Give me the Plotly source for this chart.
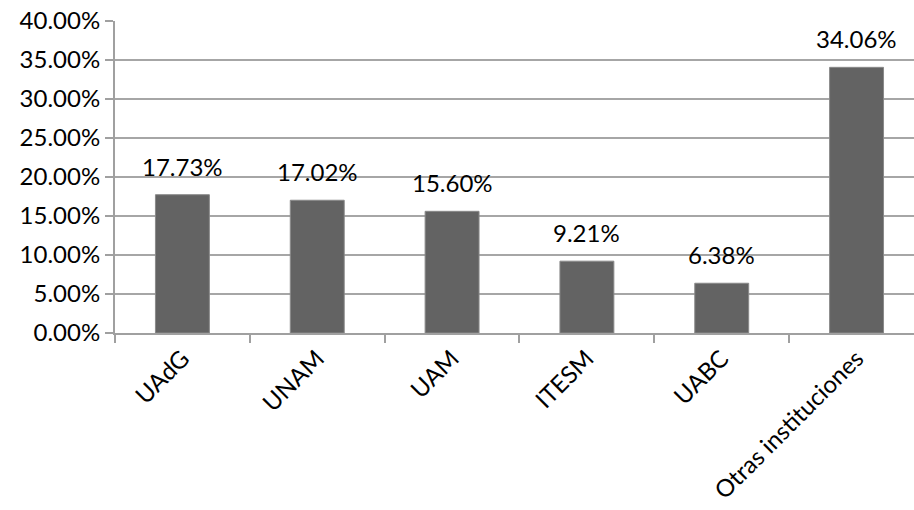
import plotly.graph_objects as go

categories = ["UAdG", "UNAM", "UAM", "ITESM", "UABC", "Otras instituciones"]
values = [0.1773, 0.1702, 0.1560, 0.0921, 0.0638, 0.3406]
labels = ["17.73%", "17.02%", "15.60%", "9.21%", "6.38%", "34.06%"]
y_ticks = [0, 0.05, 0.10, 0.15, 0.20, 0.25, 0.30, 0.35, 0.40]
y_ticklabels = ["0.00%", "5.00%", "10.00%", "15.00%", "20.00%", "25.00%", "30.00%", "35.00%", "40.00%"]

FONT = "Lato"
FS = 24
fig = go.Figure()
fig.add_trace(go.Bar(
    x=list(range(len(categories))), y=values, width=0.4,
    marker=dict(color="#636363", line=dict(color="#8a8a8a", width=1)),
    hoverinfo="skip",
))
for i, (v, t) in enumerate(zip(values, labels)):
    fig.add_annotation(x=i, y=v, text=t, showarrow=False, xref="x", yref="y",
                       yanchor="bottom", yshift=12,
                       font=dict(family=FONT, size=FS, color="#000000"))

fig.update_layout(
    width=914, height=510,
    margin=dict(l=115, r=0, t=21, b=177),
    paper_bgcolor="white", plot_bgcolor="white",
    showlegend=False,
    font=dict(family=FONT, size=FS, color="#000000"),
)
fig.update_xaxes(
    tickmode="array", tickvals=list(range(len(categories))), ticktext=categories,
    tickangle=-45, range=[-0.5, 5.426], automargin=False, ticklabeloverflow="allow",
    showline=True, linecolor="#a0a0a0", linewidth=2,
    ticks="", showgrid=False, zeroline=False,
    tickfont=dict(family=FONT, size=FS, color="#000000"),
)
fig.update_xaxes(minor=dict(tickvals=[-0.5, 0.5, 1.5, 2.5, 3.5, 4.5, 5.5], ticks="outside",
                            ticklen=8, tickcolor="#a0a0a0", tickwidth=2, showgrid=False))
fig.update_yaxes(
    range=[0, 0.40], tickmode="array", tickvals=y_ticks, ticktext=y_ticklabels,
    automargin=False, ticklabeloverflow="allow",
    showline=True, linecolor="#a0a0a0", linewidth=2,
    ticks="outside", ticklen=8, tickcolor="#a0a0a0", tickwidth=2,
    showgrid=True, gridcolor="#a6a6a6", gridwidth=1.5, zeroline=False,
    tickfont=dict(family=FONT, size=FS, color="#000000"),
)
fig.write_html("out.html", config={"displayModeBar": False},
               post_script="document.body.style.margin='0';document.body.style.overflow='hidden';")
